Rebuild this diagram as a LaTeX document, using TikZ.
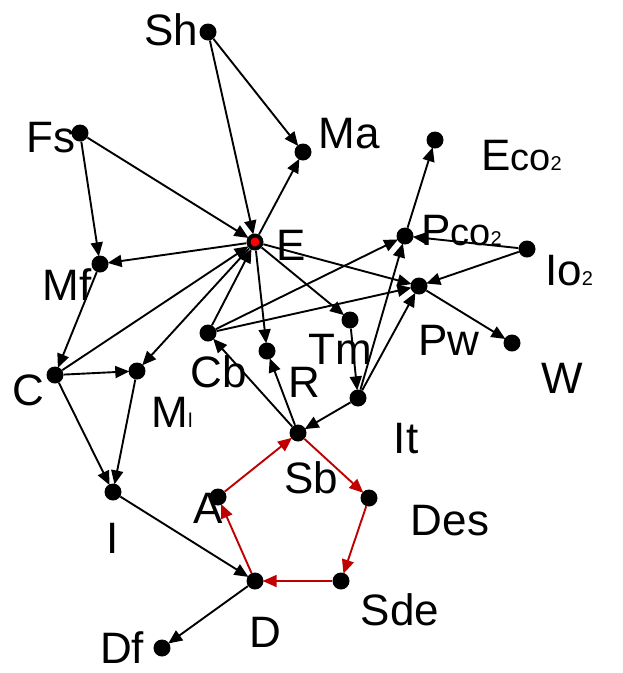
\documentclass[tikz,border=0pt]{standalone}
\usepackage{fontspec}
\setmainfont{Liberation Sans}
\usetikzlibrary{arrows.meta}
\definecolor{darkred}{RGB}{192,0,0}
\tikzset{
  dot/.style={circle,fill=black,minimum size=17pt,inner sep=0pt},
  lbl/.style={inner sep=0pt,text depth=0pt,font=\fontsize{44}{48}\selectfont},
  arr/.style={line width=1.9pt,-{Triangle[length=14pt,width=12pt]},shorten >=-1pt},
  redarr/.style={arr,draw=darkred,color=darkred},
}
\newcommand{\smalltxt}[1]{{\fontsize{38}{40}\selectfont #1}}
\newcommand{\subtxt}[1]{{\fontsize{20}{22}\selectfont #1}}
\begin{document}
\begin{tikzpicture}[x=1pt,y=-1pt]
\useasboundingbox (0,0) rectangle (623,673);
% nodes
\node[dot] (Sh) at (208,32) {};
\node[dot] (Ma) at (303,152) {};
\node[dot] (Fs) at (80,133) {};
\node[dot] (E) at (255,242) {};
\fill[red] (E.center) circle (4.5pt);
\node[dot] (Mf) at (100,264) {};
\node[dot] (Eco) at (435,140) {};
\node[dot] (Pco) at (405,236) {};
\node[dot] (Io) at (527,249) {};
\node[dot] (Pw) at (419,286) {};
\node[dot] (W) at (512,343) {};
\node[dot] (Tm) at (350,320) {};
\node[dot] (Cb) at (208,333) {};
\node[dot] (R) at (267,351) {};
\node[dot] (C) at (55,375) {};
\node[dot] (Ml) at (137,371) {};
\node[dot] (It) at (358,398) {};
\node[dot] (Sb) at (298,433) {};
\node[dot] (A) at (218,497) {};
\node[dot] (Des) at (369,498) {};
\node[dot] (I) at (113,492) {};
\node[dot] (D) at (255,581) {};
\node[dot] (Sde) at (341,581) {};
\node[dot] (Df) at (162,648) {};
% labels
\node[lbl] (tSh) at (171,30) {Sh};
\node[lbl] (tMa) at (349,133) {Ma};
\node[lbl] (tFs) at (51,137) {Fs};
\node[lbl] (tE) at (291,245) {E};
\node[lbl] (tMf) at (67,285) {Mf};
\node[lbl,anchor=west] (tEco) at (481,155) {E\smalltxt{co}\subtxt{2}};
\node[lbl,anchor=west] (tPco) at (421,230) {P\smalltxt{co}\subtxt{2}};
\node[lbl,anchor=west] (tIo) at (545,270) {Io\subtxt{2}};
\node[lbl] (tPw) at (449,340) {Pw};
\node[lbl] (tW) at (562,378) {W};
\node[lbl] (tTm) at (340,349) {Tm};
\node[lbl] (tCb) at (219,372) {Cb};
\node[lbl] (tR) at (304,382) {R};
\node[lbl] (tC) at (28,390) {C};
\node[lbl] (tMl) at (172,412) {M\subtxt{l}};
\node[lbl] (tIt) at (406,438) {It};
\node[lbl] (tSb) at (311,478) {Sb};
\node[lbl] (tA) at (208,508) {A};
\node[lbl] (tDes) at (450,520) {Des};
\node[lbl] (tI) at (113,538) {I};
\node[lbl] (tD) at (265,632) {D};
\node[lbl] (tSde) at (400,610) {Sde};
\node[lbl] (tDf) at (122,648) {Df};
% black edges
\foreach \a/\b in {Sh/Ma, Sh/E, Fs/E, Fs/Mf, E/Ma, E/Mf, E/Tm, E/R, E/Pw, E/Ml,
  Mf/C, C/E, C/Ml, C/I, Ml/I, I/D, D/Df, Cb/E, Cb/Pco, Cb/Pw, Sb/Cb, Sb/R,
  It/Sb, Tm/It, It/Pco, It/Pw, Pco/Eco, Io/Pco, Io/Pw, Pw/W}
  \draw[arr] (\a) -- (\b);
% red cycle
\foreach \a/\b in {Sb/Des, Des/Sde, Sde/D, D/A, A/Sb}
  \draw[redarr] (\a) -- (\b);
\end{tikzpicture}
\end{document}
